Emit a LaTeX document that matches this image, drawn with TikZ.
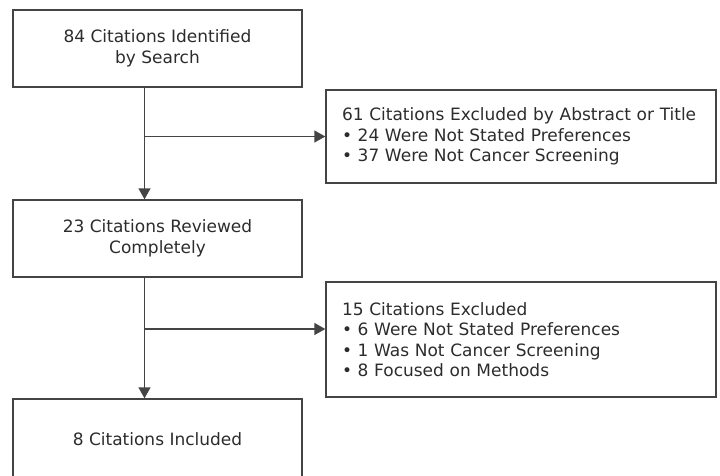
\documentclass[tikz,border=0pt]{standalone}
\usepackage{fontspec}
\setmainfont{DejaVu Sans}
\usepackage{xcolor}
\usepackage{tikz}
\usetikzlibrary{arrows.meta}
\definecolor{boxgray}{HTML}{444444}
\definecolor{textgray}{HTML}{2C2C2C}
\tikzset{%
    every box/.style={
            draw=boxgray,
            line width=1.4pt,
            text=textgray,
            font=\fontsize{17}{20.5}\selectfont
        },
    box main/.style={
            minimum width=289pt,
            minimum height=77pt,
            align=center
        },
    box excluded/.style={
            text width=358pt,
            inner xsep=16pt,
            align=left
        },
}

\begin{document}
\begin{tikzpicture}[x=1pt, y=-1pt, >={Triangle[length=11pt,width=12pt]}]

        \useasboundingbox (0,0) rectangle (720,475);

        \foreach \m/\l/\y/\h in {search/{84 Citations Identified\\by Search}/48.5/77,
                                 reviewed/{23 Citations Reviewed\\Completely}/238.5/77,
                                 included/{8 Citations Included}/439/80}
        \node [every box, box main, minimum height=\h pt] (\m) at (157.5,\y) {\l};

        \node [every box, box excluded, minimum height=93pt] (abstract) at (521,136.5)
        {61 Citations Excluded by Abstract or Title\\• 24 Were Not Stated Preferences\\• 37 Were Not Cancer Screening};

        \node [every box, box excluded, minimum height=115pt] (methods) at (521,339.5)
        {15 Citations Excluded\\• 6 Were Not Stated Preferences\\• 1 Was Not Cancer Screening\\• 8 Focused on Methods};

        \foreach \a/\b/\e/\s in {search/reviewed/abstract/0, reviewed/included/methods/10.5}
        {
        \coordinate (trunk-\a) at ([xshift=-13pt]\a.south);
        \coordinate (branch-\e) at ([yshift=\s pt]\e.west);
        \draw [->, draw=boxgray, line width=1.4pt] (trunk-\a) -- (trunk-\a |- \b.north);
        \draw [->, draw=boxgray, line width=1.4pt] (trunk-\a |- branch-\e) -- (branch-\e);
        }

    \end{tikzpicture}
\end{document}
